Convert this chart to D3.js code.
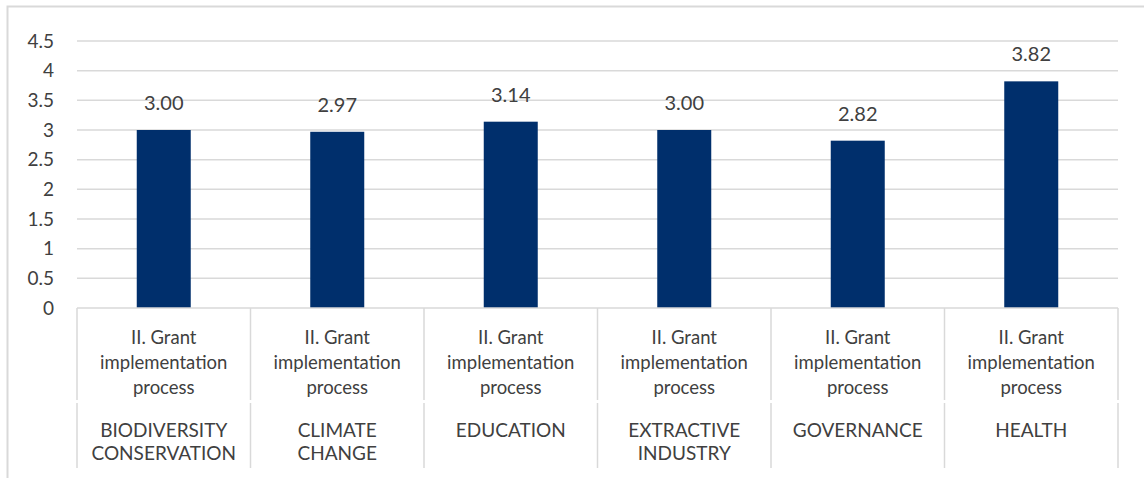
<!DOCTYPE html>
<html><head><meta charset="utf-8">
<script src="https://cdn.jsdelivr.net/npm/d3@7"></script>
<style>body{margin:0;background:#fff}svg{display:block}text{font-family:"Gill Sans","Lato","Noto Sans",sans-serif;fill:#404040}</style>
</head><body><svg id="c" width="1144" height="478"></svg>
<script>
const categories = ["BIODIVERSITY\nCONSERVATION","CLIMATE\nCHANGE","EDUCATION","EXTRACTIVE\nINDUSTRY","GOVERNANCE","HEALTH"];
const subLabel = ["II. Grant","implementation","process"];
const values = [3.00, 2.97, 3.14, 3.00, 2.82, 3.82];
const yTicks = [0,0.5,1,1.5,2,2.5,3,3.5,4,4.5];
const tickLabels = ["0","0.5","1","1.5","2","2.5","3","3.5","4","4.5"];

(function(){
const svg = d3.select("#c");
const pL = 77, pR = 1118, pT = 41, base = 308;
svg.append("path").attr("d","M7.5,478 V6.5 H1144").attr("fill","none").attr("stroke","#d9d9d9").attr("stroke-width",2);

const x = d3.scaleBand().domain(d3.range(values.length)).range([pL,pR]).paddingInner(0).paddingOuter(0);
const y = d3.scaleLinear().domain([0,4.5]).range([base,pT]);

svg.append("g").selectAll("line").data(yTicks.filter(d=>d>0)).join("line")
  .attr("x1",pL).attr("x2",pR).attr("y1",d=>y(d)).attr("y2",d=>y(d))
  .attr("stroke","#d9d9d9").attr("stroke-width",1.5);

svg.append("g").selectAll("text").data(yTicks).join("text")
  .attr("x",54).attr("y",d=>y(d)).attr("dy","0.35em").attr("text-anchor","end")
  .attr("font-size",19).text((d,i)=>tickLabels[i]);

const bw = 54;
svg.append("g").selectAll("rect").data(values).join("rect")
  .attr("x",(d,i)=>x(i)+x.bandwidth()/2-bw/2).attr("width",bw)
  .attr("y",d=>y(d)).attr("height",d=>base-y(d)).attr("fill","#002F6C");

svg.append("g").selectAll("text").data(values).join("text")
  .attr("x",(d,i)=>x(i)+x.bandwidth()/2).attr("y",d=>y(d)-27).attr("dy","0.35em")
  .attr("text-anchor","middle").attr("font-size",20).text(d=>d.toFixed(2));

svg.append("line").attr("x1",pL).attr("x2",pR).attr("y1",base).attr("y2",base)
  .attr("stroke","#d9d9d9").attr("stroke-width",1.5);

const bounds = d3.range(values.length+1).map(i=> i<values.length ? x(i) : pR);
const dg = svg.append("g").attr("stroke","#d9d9d9").attr("stroke-width",1.5);
bounds.forEach(b=>{
  dg.append("line").attr("x1",b).attr("x2",b).attr("y1",base).attr("y2",400);
  dg.append("line").attr("x1",b).attr("x2",b).attr("y1",403).attr("y2",468);
});

const g1 = svg.append("g");
values.forEach((v,i)=>{
  subLabel.forEach((s,j)=>{
    g1.append("text").attr("x",x(i)+x.bandwidth()/2).attr("y",338+j*25).attr("dy","0.35em")
      .attr("text-anchor","middle").attr("font-size",18.5).text(s);
  });
  categories[i].split("\n").forEach((s,j)=>{
    g1.append("text").attr("x",x(i)+x.bandwidth()/2).attr("y",430+j*23).attr("dy","0.35em")
      .attr("text-anchor","middle").attr("font-size",19).text(s);
  });
});
})();
</script></body></html>
